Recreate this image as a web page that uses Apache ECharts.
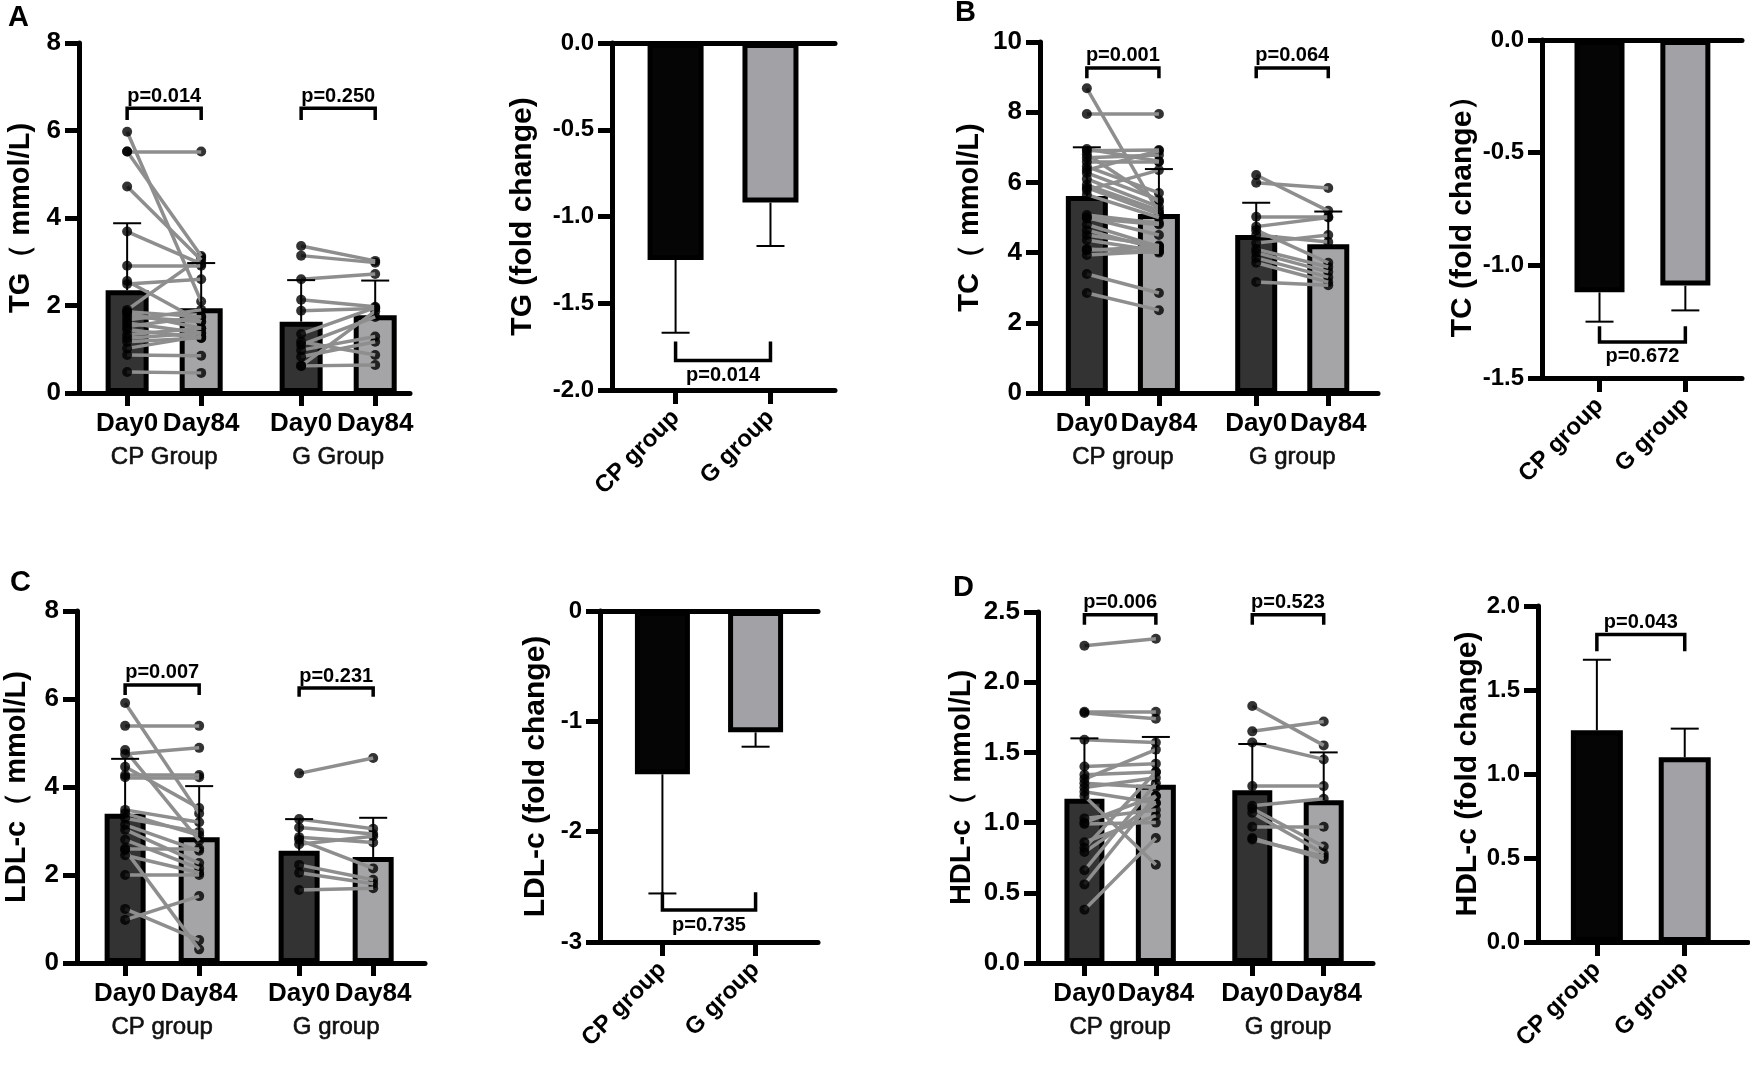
<!DOCTYPE html>
<html lang="en">
<head>
<meta charset="UTF-8">
<title>Lipid profile before and after intervention</title>
<script src="https://cdn.jsdelivr.net/npm/echarts@6/dist/echarts.min.js"></script>
<style>
  html, body { margin: 0; padding: 0; background: #fff; }
  #main { width: 1750px; height: 1087px; }
</style>
</head>
<body>
<div id="main"></div>
<script>
  // ---------- data ----------
  var dayLabels = ['Day0', 'Day84', 'Day0', 'Day84'];
  var foldLabels = ['CP group', 'G group'];

  // TG (mmol/L)
  var tgCpDay0 = [5.97, 5.52, 5.52, 4.72, 3.69, 2.91, 2.56, 2.49, 1.90, 1.86, 1.83, 1.75, 1.67, 1.60, 1.52, 1.45, 1.33, 1.25, 1.17, 1.02, 0.87, 0.48];
  var tgCpDay84 = [2.09, 5.52, 3.13, 3.04, 2.95, 2.91, 1.63, 2.60, 3.10, 1.74, 1.48, 1.63, 1.90, 1.37, 1.74, 1.26, 1.48, 1.37, 1.26, 1.30, 0.85, 0.46];
  var tgGDay0 = [3.36, 3.14, 2.60, 2.13, 1.88, 1.35, 1.17, 1.10, 0.98, 0.83, 0.62, 0.62];
  var tgGDay84 = [3.02, 2.98, 2.72, 1.97, 1.93, 1.95, 0.87, 1.74, 1.29, 1.17, 1.87, 0.64];
  var tgMean = [2.35, 1.94, 1.63, 1.78];
  var tgSdTop = [3.88, 2.97, 2.58, 2.57];
  var tgPairP = ['p=0.014', 'p=0.250'];
  var tgFold = [-1.25, -0.92];
  var tgFoldErr = [-1.67, -1.17];
  var tgFoldP = 'p=0.014';

  // TC (mmol/L)
  var tcCpDay0 = [8.68, 7.95, 6.95, 6.90, 6.80, 6.70, 6.59, 6.45, 6.35, 6.27, 6.10, 5.93, 5.85, 5.78, 5.65, 5.07, 5.00, 4.98, 4.80, 4.64, 4.50, 4.36, 4.10, 4.07, 3.93, 3.39, 2.85];
  var tcCpDay84 = [5.13, 7.95, 6.60, 6.92, 5.45, 6.78, 6.59, 5.70, 6.90, 5.50, 5.30, 5.20, 5.10, 6.35, 5.00, 4.84, 4.50, 4.80, 4.17, 4.10, 4.20, 4.04, 4.00, 4.17, 4.04, 2.85, 2.36];
  var tcGDay0 = [6.21, 5.99, 5.02, 4.74, 4.64, 4.50, 4.27, 4.10, 4.00, 3.85, 3.71, 3.16];
  var tcGDay84 = [5.19, 5.84, 5.02, 5.00, 3.71, 4.30, 4.50, 3.59, 3.45, 3.30, 3.16, 3.07];
  var tcMean = [5.61, 5.10, 4.50, 4.24];
  var tcSdTop = [7.00, 6.38, 5.42, 5.17];
  var tcPairP = ['p=0.001', 'p=0.064'];
  var tcFold = [-1.12, -1.09];
  var tcFoldErr = [-1.25, -1.20];
  var tcFoldP = 'p=0.672';

  // LDL-c (mmol/L)
  var ldlCpDay0 = [5.91, 5.39, 4.84, 4.75, 4.46, 4.27, 4.22, 3.48, 3.40, 3.29, 3.14, 3.03, 2.80, 2.60, 2.57, 2.45, 2.00, 1.23, 0.98];
  var ldlCpDay84 = [3.40, 5.39, 2.78, 4.89, 3.52, 4.27, 4.22, 3.20, 2.90, 2.98, 2.55, 2.27, 2.15, 2.60, 0.31, 2.05, 2.00, 0.52, 1.52];
  var ldlGDay0 = [4.31, 3.27, 3.08, 2.86, 2.80, 2.70, 2.23, 2.05, 1.66];
  var ldlGDay84 = [4.66, 3.05, 2.93, 2.74, 2.15, 2.88, 1.89, 1.80, 1.70];
  var ldlMean = [3.39, 2.86, 2.55, 2.41];
  var ldlSdTop = [4.64, 4.02, 3.27, 3.30];
  var ldlPairP = ['p=0.007', 'p=0.231'];
  var ldlFold = [-1.48, -1.10];
  var ldlFoldErr = [-2.56, -1.23];
  var ldlFoldP = 'p=0.735';

  // HDL-c (mmol/L)
  var hdlCpDay0 = [2.26, 1.79, 1.78, 1.59, 1.40, 1.34, 1.31, 1.28, 1.25, 1.22, 1.19, 1.03, 1.00, 0.99, 0.86, 0.82, 0.79, 0.66, 0.56, 0.38];
  var hdlCpDay84 = [2.31, 1.79, 1.74, 1.57, 1.42, 1.36, 1.52, 1.25, 1.32, 1.14, 0.70, 1.09, 1.19, 1.00, 1.05, 1.36, 1.14, 1.28, 1.19, 0.89];
  var hdlGDay0 = [1.83, 1.65, 1.57, 1.26, 1.12, 1.07, 1.10, 0.97, 0.89, 0.88];
  var hdlGDay84 = [1.55, 1.72, 1.45, 1.26, 1.17, 0.78, 0.83, 0.97, 0.74, 0.76];
  var hdlMean = [1.17, 1.27, 1.23, 1.16];
  var hdlSdTop = [1.60, 1.61, 1.56, 1.50];
  var hdlPairP = ['p=0.006', 'p=0.523'];
  var hdlFold = [1.26, 1.10];
  var hdlFoldErr = [1.68, 1.27];
  var hdlFoldP = 'p=0.043';

  // ---------- layout ----------
  var FONT = 'Liberation Sans, Arial, Helvetica, sans-serif';
  var AXIS_W = 5;
  var slotX = [0.65, 1.65, 3, 4];
  var groupX = [1.15, 3.5];
  var foldX = [0.67, 1.67];

  var grids = [], xAxes = [], yAxes = [], series = [];

  function nearest(arr, v) {
    var best = 0;
    for (var i = 1; i < arr.length; i++) {
      if (Math.abs(arr[i] - v) < Math.abs(arr[best] - v)) best = i;
    }
    return best;
  }

  function makeYAxis(gi, o, labelSize) {
    return {
      type: 'value', gridIndex: gi, min: o.yMin, max: o.yMax, interval: o.yInt,
      name: o.yName, nameLocation: 'middle', nameGap: o.nameGap, nameRotate: 90, nameMoveOverlap: false,
      nameTextStyle: { fontFamily: FONT, fontWeight: 'bold', fontSize: o.nameSize || 29, color: '#000' },
      axisLine: { show: true, onZero: false, lineStyle: { color: '#000', width: AXIS_W } },
      axisTick: { show: true, length: 14, lineStyle: { color: '#000', width: AXIS_W } },
      axisLabel: {
        fontFamily: FONT, fontWeight: 'bold', fontSize: labelSize, color: '#000', margin: 18,
        formatter: function (v) { return v.toFixed(o.decimals); }
      },
      splitLine: { show: false }
    };
  }

  function errorSeries(xi, yi, data) {
    return {
      type: 'custom', xAxisIndex: xi, yAxisIndex: yi, z: 6, silent: true,
      encode: { x: 0, y: [1, 2] },
      data: data,
      renderItem: function (params, api) {
        var p0 = api.coord([api.value(0), api.value(1)]);
        var p1 = api.coord([api.value(0), api.value(2)]);
        var st = { stroke: '#000', lineWidth: 2 };
        return {
          type: 'group', children: [
            { type: 'line', shape: { x1: p0[0], y1: p0[1], x2: p1[0], y2: p1[1] }, style: st },
            { type: 'line', shape: { x1: p1[0] - 14, y1: p1[1], x2: p1[0] + 14, y2: p1[1] }, style: st }
          ]
        };
      }
    };
  }

  function bracketSeries(xi, yi, data, texts, below) {
    return {
      type: 'custom', xAxisIndex: xi, yAxisIndex: yi, z: 6, silent: true,
      encode: { x: [0, 1], y: [2, 3] },
      data: data,
      renderItem: function (params, api) {
        var a = api.coord([api.value(0), api.value(3)]);
        var b = api.coord([api.value(0), api.value(2)]);
        var c = api.coord([api.value(1), api.value(2)]);
        var d = api.coord([api.value(1), api.value(3)]);
        return {
          type: 'group', children: [
            {
              type: 'polyline', shape: { points: [a, b, c, d] },
              style: { stroke: '#000', lineWidth: 3.5, fill: null }
            },
            {
              type: 'text', x: (b[0] + c[0]) / 2, y: below ? b[1] + 5 : b[1] - 2,
              style: {
                text: texts[params.dataIndex], fill: '#000', fontFamily: FONT, fontWeight: 'bold', fontSize: 20,
                align: 'center', verticalAlign: below ? 'top' : 'bottom'
              }
            }
          ]
        };
      }
    };
  }

  function pairedPanel(o) {
    var gi = grids.length;
    grids.push({ left: o.left, top: o.top, width: o.width, height: o.height, outerBoundsMode: 'none', containLabel: false });
    var xi = xAxes.length;
    xAxes.push({
      type: 'value', gridIndex: gi, min: 0, max: o.xMax, position: 'bottom',
      axisLine: { show: true, onZero: false, lineStyle: { color: '#000', width: AXIS_W } },
      axisTick: { show: true, customValues: slotX, length: 13, lineStyle: { color: '#000', width: AXIS_W } },
      axisLabel: {
        customValues: slotX, margin: 18, fontFamily: FONT, fontWeight: 'bold', fontSize: 26, color: '#000',
        formatter: function (v) { return dayLabels[nearest(slotX, v)]; }
      },
      splitLine: { show: false }
    });
    xAxes.push({
      type: 'value', gridIndex: gi, min: 0, max: o.xMax, position: 'bottom',
      axisLine: { show: false }, axisTick: { show: false },
      axisLabel: {
        customValues: groupX, margin: 52, fontFamily: FONT, fontSize: 24, color: '#111',
        textBorderColor: '#111', textBorderWidth: 0.6,
        formatter: function (v) { return o.groups[nearest(groupX, v)]; }
      },
      splitLine: { show: false }
    });
    var yi = yAxes.length;
    yAxes.push(makeYAxis(gi, o, 26));

    series.push({
      type: 'bar', xAxisIndex: xi, yAxisIndex: yi, barWidth: o.barWidth, z: 2, silent: true,
      itemStyle: { borderColor: '#000', borderWidth: 5 },
      data: o.mean.map(function (v, i) {
        return { value: [slotX[i], v], itemStyle: { color: i % 2 === 0 ? '#333333' : '#a5a5a8' } };
      })
    });

    var sets = [[o.cp0, o.cp84, 0], [o.g0, o.g84, 2]];
    sets.forEach(function (s) {
      var x0 = slotX[s[2]], x1 = slotX[s[2] + 1];
      series.push({
        type: 'scatter', xAxisIndex: xi, yAxisIndex: yi, symbolSize: 10, z: 3, silent: true,
        itemStyle: { color: '#000' },
        data: s[1].map(function (v) { return [x1, v]; })
      });
      series.push({
        type: 'lines', coordinateSystem: 'cartesian2d', xAxisIndex: xi, yAxisIndex: yi, z: 4, silent: true,
        lineStyle: { color: '#8e8e8e', width: 3.5, opacity: 1 },
        data: s[0].map(function (v, i) { return { coords: [[x0, v], [x1, s[1][i]]] }; })
      });
      series.push({
        type: 'scatter', xAxisIndex: xi, yAxisIndex: yi, symbolSize: 10, z: 5, silent: true,
        itemStyle: { color: '#000' },
        data: s[0].map(function (v) { return [x0, v]; })
      });
    });

    series.push(errorSeries(xi, yi, o.mean.map(function (v, i) { return [slotX[i], v, o.sdTop[i]]; })));
    series.push(bracketSeries(xi, yi, [
      [slotX[0], slotX[1], o.brY[0], o.brTip[0]],
      [slotX[2], slotX[3], o.brY[1], o.brTip[1]]
    ], o.pText, false));
  }

  function foldPanel(o) {
    var gi = grids.length;
    grids.push({ left: o.left, top: o.top, width: o.width, height: o.height, outerBoundsMode: 'none', containLabel: false });
    var xi = xAxes.length;
    xAxes.push({
      type: 'value', gridIndex: gi, min: 0, max: o.xMax, position: 'bottom',
      axisLine: { show: true, onZero: false, lineStyle: { color: '#000', width: AXIS_W } },
      axisTick: { show: true, customValues: foldX, length: 14, lineStyle: { color: '#000', width: AXIS_W } },
      axisLabel: {
        customValues: foldX, margin: 24, rotate: 45, fontFamily: FONT, fontWeight: 'bold', fontSize: 24, color: '#000',
        formatter: function (v) { return foldLabels[nearest(foldX, v)]; }
      },
      splitLine: { show: false }
    });
    if (o.yMax === 0) {
      xAxes.push({
        type: 'value', gridIndex: gi, min: 0, max: o.xMax, position: 'top',
        axisLine: { show: true, onZero: false, lineStyle: { color: '#000', width: AXIS_W } },
        axisTick: { show: false }, axisLabel: { show: false }, splitLine: { show: false }
      });
    }
    var yi = yAxes.length;
    yAxes.push(makeYAxis(gi, o, 24));

    series.push({
      type: 'bar', xAxisIndex: xi, yAxisIndex: yi, barWidth: o.barWidth, z: 2, silent: true,
      itemStyle: { borderColor: '#000', borderWidth: 5 },
      data: o.fold.map(function (v, i) {
        return { value: [foldX[i], v], itemStyle: { color: i === 0 ? '#050505' : '#a2a2a6' } };
      })
    });
    series.push(errorSeries(xi, yi, o.fold.map(function (v, i) { return [foldX[i], v, o.err[i]]; })));
    series.push(bracketSeries(xi, yi, [[foldX[0], foldX[1], o.brY, o.brTip]], [o.pText], o.yMax === 0));
  }

  // ---------- panels ----------
  pairedPanel({
    left: 79, top: 43, width: 331, height: 350, xMax: 4.47, barWidth: 43,
    yMin: 0, yMax: 8, yInt: 2, decimals: 0, yName: 'TG（ mmol/L)', nameGap: 44,
    groups: ['CP Group', 'G Group'],
    cp0: tgCpDay0, cp84: tgCpDay84, g0: tgGDay0, g84: tgGDay84,
    mean: tgMean, sdTop: tgSdTop, pText: tgPairP, brY: [6.51, 6.51], brTip: [6.24, 6.24]
  });
  foldPanel({
    left: 612, top: 43, width: 223, height: 347, xMax: 2.35, barWidth: 56,
    yMin: -2, yMax: 0, yInt: 0.5, decimals: 1, yName: 'TG (fold change)', nameGap: 74, nameSize: 30,
    fold: tgFold, err: tgFoldErr, pText: tgFoldP, brY: -1.83, brTip: -1.72
  });
  pairedPanel({
    left: 1040, top: 42, width: 338, height: 351, xMax: 4.69, barWidth: 42,
    yMin: 0, yMax: 10, yInt: 2, decimals: 0, yName: 'TC（ mmol/L)', nameGap: 56,
    groups: ['CP group', 'G group'],
    cp0: tcCpDay0, cp84: tcCpDay84, g0: tcGDay0, g84: tcGDay84,
    mean: tcMean, sdTop: tcSdTop, pText: tcPairP, brY: [9.26, 9.26], brTip: [8.97, 8.97]
  });
  foldPanel({
    left: 1542, top: 40, width: 200, height: 338, xMax: 2.33, barWidth: 50,
    yMin: -1.5, yMax: 0, yInt: 0.5, decimals: 1, yName: 'TC (fold change）', nameGap: 64, nameSize: 30,
    fold: tcFold, err: tcFoldErr, pText: tcFoldP, brY: -1.34, brTip: -1.27
  });
  pairedPanel({
    left: 77, top: 611, width: 348, height: 352, xMax: 4.7, barWidth: 41,
    yMin: 0, yMax: 8, yInt: 2, decimals: 0, yName: 'LDL-c（ mmol/L)', nameGap: 46,
    groups: ['CP group', 'G group'],
    cp0: ldlCpDay0, cp84: ldlCpDay84, g0: ldlGDay0, g84: ldlGDay84,
    mean: ldlMean, sdTop: ldlSdTop, pText: ldlPairP, brY: [6.32, 6.25], brTip: [6.09, 6.05]
  });
  foldPanel({
    left: 600, top: 611, width: 218, height: 331, xMax: 2.34, barWidth: 55,
    yMin: -3, yMax: 0, yInt: 1, decimals: 0, yName: 'LDL-c (fold change)', nameGap: 49, nameSize: 30,
    fold: ldlFold, err: ldlFoldErr, pText: ldlFoldP, brY: -2.71, brTip: -2.55
  });
  pairedPanel({
    left: 1038, top: 612, width: 335, height: 351, xMax: 4.69, barWidth: 40,
    yMin: 0, yMax: 2.5, yInt: 0.5, decimals: 1, yName: 'HDL-c（ mmol/L)', nameGap: 62,
    groups: ['CP group', 'G group'],
    cp0: hdlCpDay0, cp84: hdlCpDay84, g0: hdlGDay0, g84: hdlGDay84,
    mean: hdlMean, sdTop: hdlSdTop, pText: hdlPairP, brY: [2.48, 2.48], brTip: [2.41, 2.41]
  });
  foldPanel({
    left: 1538, top: 606, width: 210, height: 336, xMax: 2.39, barWidth: 52,
    yMin: 0, yMax: 2, yInt: 0.5, decimals: 1, yName: 'HDL-c (fold change)', nameGap: 55, nameSize: 30,
    fold: hdlFold, err: hdlFoldErr, pText: hdlFoldP, brY: 1.83, brTip: 1.73
  });

  var panelLetters = [['A', 8, 3], ['B', 955, -2], ['C', 10, 568], ['D', 953, 573]];

  var chart = echarts.init(document.getElementById('main'), null, { renderer: 'canvas' });
  chart.setOption({
    animation: false,
    backgroundColor: '#fff',
    grid: grids,
    xAxis: xAxes,
    yAxis: yAxes,
    series: series,
    graphic: panelLetters.map(function (p) {
      return {
        type: 'text', left: p[1], top: p[2],
        style: { text: p[0], fill: '#000', fontFamily: FONT, fontWeight: 'bold', fontSize: 29 }
      };
    })
  });
</script>
</body>
</html>
